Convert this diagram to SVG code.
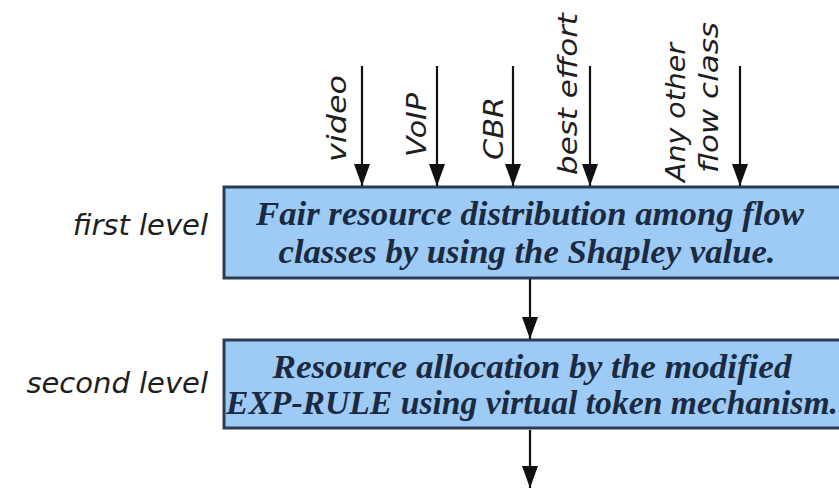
<svg xmlns="http://www.w3.org/2000/svg" width="839" height="490" viewBox="0 0 839 490">
  <style>
    .box { fill: #9dcbf5; stroke: #2b3d52; stroke-width: 3; }
    .boxtext { font-family: "Liberation Serif", "Times New Roman", serif; font-style: italic; font-weight: bold; font-size: 33px; fill: #1b2a40; text-anchor: middle; }
    .level { font-family: "DejaVu Sans", sans-serif; font-style: oblique; font-size: 29px; fill: #1e1e1e; text-anchor: end; }
    .flow { font-family: "DejaVu Sans", sans-serif; font-style: oblique; font-size: 26px; fill: #1e1e1e; }
    .conn { stroke: #111; stroke-width: 2.2; fill: none; marker-end: url(#head); }
  </style>
  <defs>
    <marker id="head" markerUnits="userSpaceOnUse" markerWidth="22" markerHeight="16" refX="22" refY="8" orient="auto">
      <path d="M0,0 L22,8 L0,16 z" fill="#111"/>
    </marker>
  </defs>

  <rect width="839" height="490" fill="#ffffff"/>

  <!-- flow class labels -->
  <g id="flow-labels">
    <text class="flow" transform="translate(346,162) rotate(-90)" textLength="87" lengthAdjust="spacingAndGlyphs">video</text>
    <text class="flow" transform="translate(426,157) rotate(-90)" textLength="64" lengthAdjust="spacingAndGlyphs">VoIP</text>
    <text class="flow" transform="translate(503,160) rotate(-90)" textLength="63" lengthAdjust="spacingAndGlyphs">CBR</text>
    <text class="flow" transform="translate(577,175) rotate(-90)" textLength="162" lengthAdjust="spacingAndGlyphs">best effort</text>
    <text class="flow" transform="translate(685,182) rotate(-90)" textLength="139" lengthAdjust="spacingAndGlyphs">Any other</text>
    <text class="flow" transform="translate(718,173) rotate(-90)" textLength="151" lengthAdjust="spacingAndGlyphs">flow class</text>
  </g>

  <!-- first level -->
  <g id="first-level">
    <rect class="box" x="224" y="187" width="640" height="91"/>
    <text class="boxtext" x="530" y="225" textLength="548" lengthAdjust="spacingAndGlyphs">Fair resource distribution among flow</text>
    <text class="boxtext" x="527" y="263" textLength="497" lengthAdjust="spacingAndGlyphs">classes by using the Shapley value.</text>
    <text class="level" x="208" y="235">first level</text>
  </g>

  <!-- second level -->
  <g id="second-level">
    <rect class="box" x="224" y="340" width="640" height="88"/>
    <text class="boxtext" x="532" y="378" textLength="519" lengthAdjust="spacingAndGlyphs">Resource allocation by the modified</text>
    <text class="boxtext" x="532" y="414" textLength="612" lengthAdjust="spacingAndGlyphs">EXP-RULE using virtual token mechanism.</text>
    <text class="level" x="208" y="393">second level</text>
  </g>

  <!-- connectors -->
  <g id="connectors">
    <line class="conn" x1="362" y1="66" x2="362" y2="186"/>
    <line class="conn" x1="437" y1="66" x2="437" y2="186"/>
    <line class="conn" x1="513" y1="66" x2="513" y2="186"/>
    <line class="conn" x1="590" y1="66" x2="590" y2="186"/>
    <line class="conn" x1="740" y1="66" x2="740" y2="186"/>
    <line class="conn" x1="530" y1="279" x2="530" y2="339"/>
    <line class="conn" x1="530" y1="430" x2="530" y2="488"/>
  </g>
</svg>
